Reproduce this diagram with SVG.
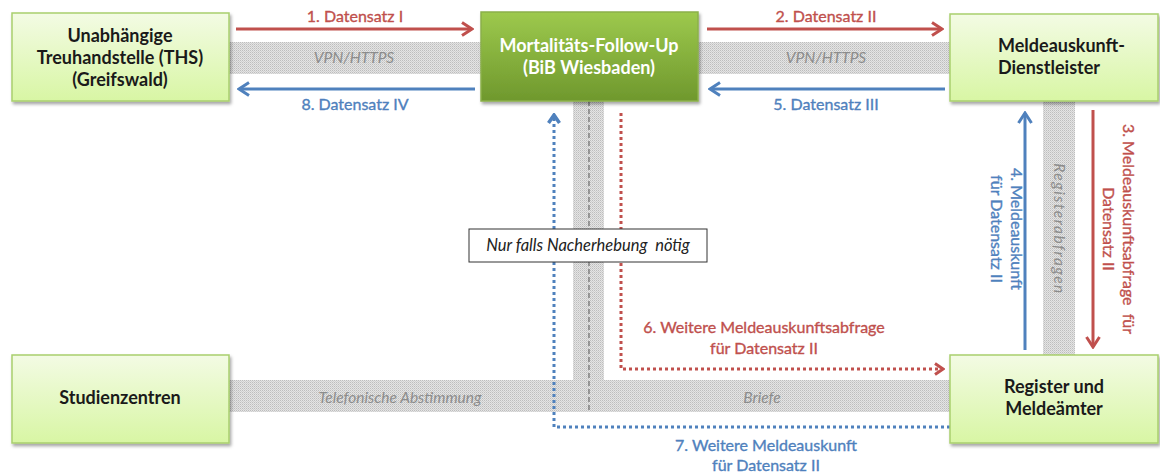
<svg xmlns="http://www.w3.org/2000/svg" width="1160" height="475" viewBox="0 0 1160 475">
<style>
.node{stroke:#a9cf6e;stroke-width:1.5;filter:url(#sh)}
.lt{fill:url(#gLight)}
.dk{fill:url(#gDark);stroke:#8bb04a}
.nt{font-family:Lato,"Liberation Sans",sans-serif;font-weight:bold;font-size:18px;fill:#1a1a1a}
.wt{fill:#ffffff}
.band{fill:url(#dots)}
.bl{font-family:Lato,"Liberation Sans",sans-serif;font-style:italic;font-size:15.5px;fill:#8c8c8c}
.red{stroke:#c0504d;fill:none}
.blue{stroke:#4f81bd;fill:none}
.rt{font-family:Lato,"Liberation Sans",sans-serif;font-size:16px;fill:#c0504d;stroke:#c0504d;stroke-width:0.35;white-space:pre}
.btx{font-family:Lato,"Liberation Sans",sans-serif;font-size:16px;fill:#4f81bd;stroke:#4f81bd;stroke-width:0.35;white-space:pre}
.solid{stroke-width:3}
.dot{stroke-width:3;stroke-dasharray:3 3}
</style>
<defs>
<linearGradient id="gLight" x1="0" y1="0" x2="0" y2="1">
<stop offset="0" stop-color="#f3fbe4"/>
<stop offset="1" stop-color="#d8f6a4"/>
</linearGradient>
<linearGradient id="gDark" x1="0" y1="0" x2="0" y2="1">
<stop offset="0" stop-color="#9dc94d"/>
<stop offset="1" stop-color="#6f982d"/>
</linearGradient>
<pattern id="dots" width="2" height="2" patternUnits="userSpaceOnUse">
<rect width="2" height="2" fill="#e4e4e4"/>
<rect width="1" height="1" fill="#bdbdbd"/>
<rect x="1" y="1" width="1" height="1" fill="#cfcfcf"/>
</pattern>
<filter id="sh" x="-10%" y="-10%" width="125%" height="130%">
<feDropShadow dx="1.5" dy="2.5" stdDeviation="1.8" flood-color="#000" flood-opacity="0.35"/>
</filter>
<marker id="aR" viewBox="0 0 14 16" refX="12" refY="8" markerWidth="14" markerHeight="16" markerUnits="userSpaceOnUse" orient="auto">
<path d="M2,1.5 L12,8 L2,14.5" fill="none" stroke="#c0504d" stroke-width="3"/>
</marker>
<marker id="aB" viewBox="0 0 14 16" refX="12" refY="8" markerWidth="14" markerHeight="16" markerUnits="userSpaceOnUse" orient="auto">
<path d="M2,1.5 L12,8 L2,14.5" fill="none" stroke="#4f81bd" stroke-width="3"/>
</marker>
<marker id="aRs" viewBox="0 0 12 14" refX="10" refY="7" markerWidth="12" markerHeight="14" markerUnits="userSpaceOnUse" orient="auto">
<path d="M2,1.5 L10,7 L2,12.5" fill="none" stroke="#c0504d" stroke-width="3"/>
</marker>
<marker id="aBs" viewBox="0 0 12 14" refX="10" refY="7" markerWidth="12" markerHeight="14" markerUnits="userSpaceOnUse" orient="auto">
<path d="M2,1.5 L10,7 L2,12.5" fill="none" stroke="#4f81bd" stroke-width="3.5"/>
</marker>
</defs>

<g id="bands">
<rect class="band" x="229" y="42" width="721" height="32"/>
<rect class="band" x="1043" y="101" width="32" height="254"/>
<rect class="band" x="573" y="101" width="31" height="311"/>
<rect class="band" x="229" y="380" width="721" height="32"/>
<line x1="589" y1="101" x2="589" y2="410" stroke="#555" stroke-width="1" stroke-dasharray="5 3"/>
<text class="bl" x="354" y="63" text-anchor="middle">VPN/HTTPS</text>
<text class="bl" x="826" y="63" text-anchor="middle">VPN/HTTPS</text>
<text class="bl" x="400" y="403" text-anchor="middle" font-size="16.5">Telefonische Abstimmung</text>
<text class="bl" x="762" y="403" text-anchor="middle" font-size="16.5">Briefe</text>
<text class="bl" transform="translate(1054,229) rotate(90)" text-anchor="middle" letter-spacing="1.5">Registerabfragen</text>
</g>

<g id="connectors">
<line class="red solid" x1="236" y1="29" x2="472" y2="29" marker-end="url(#aR)"/>
<line class="red solid" x1="707" y1="29" x2="942" y2="29" marker-end="url(#aR)"/>
<line class="blue solid" x1="475" y1="89" x2="239" y2="89" marker-end="url(#aB)"/>
<line class="blue solid" x1="945" y1="89" x2="710" y2="89" marker-end="url(#aB)"/>
<line class="blue solid" x1="1025" y1="350" x2="1025" y2="113" marker-end="url(#aB)"/>
<line class="red solid" x1="1093" y1="110" x2="1093" y2="347" marker-end="url(#aR)"/>
<path class="red dot" d="M621,113 V369 H943" marker-end="url(#aRs)"/>
<path class="blue dot" d="M950,427 H554 V115" marker-end="url(#aBs)"/>
<text class="rt" x="355" y="22" text-anchor="middle">1. Datensatz I</text>
<text class="rt" x="826" y="22" text-anchor="middle">2. Datensatz II</text>
<text class="btx" x="355" y="110" text-anchor="middle">8. Datensatz IV</text>
<text class="btx" x="826" y="110" text-anchor="middle">5. Datensatz III</text>
<text class="btx" transform="translate(1011,229) rotate(90)" text-anchor="middle">4. Meldeauskunft</text>
<text class="btx" transform="translate(991,229) rotate(90)" text-anchor="middle">für Datensatz II</text>
<text class="rt" transform="translate(1123,229) rotate(90)" text-anchor="middle">3. Meldeauskunftsabfrage  für</text>
<text class="rt" transform="translate(1103,229) rotate(90)" text-anchor="middle">Datensatz II</text>
<text class="rt" x="764" y="333" text-anchor="middle">6. Weitere Meldeauskunftsabfrage</text>
<text class="rt" x="764" y="354" text-anchor="middle">für Datensatz II</text>
<text class="btx" x="766" y="451" text-anchor="middle">7. Weitere Meldeauskunft</text>
<text class="btx" x="766" y="471" text-anchor="middle">für Datensatz II</text>
</g>

<g id="note">
<rect x="469" y="229" width="238" height="33" fill="#fff" stroke="#333" stroke-width="1"/>
<text x="588" y="251" text-anchor="middle" font-family="Lato,'Liberation Sans',sans-serif" font-style="italic" font-size="16.5" fill="#222" style="white-space:pre">Nur falls Nacherhebung  nötig</text>
</g>

<g id="ths">
<rect class="node lt" x="12" y="13" width="217" height="88"/>
<text class="nt" x="120" y="42" text-anchor="middle">Unabhängige</text>
<text class="nt" x="120" y="64" text-anchor="middle">Treuhandstelle (THS)</text>
<text class="nt" x="120" y="86" text-anchor="middle">(Greifswald)</text>
</g>

<g id="mfu">
<rect class="node dk" x="481" y="12" width="217" height="89"/>
<text class="nt wt" x="589" y="52" text-anchor="middle">Mortalitäts-Follow-Up</text>
<text class="nt wt" x="589" y="74" text-anchor="middle">(BiB Wiesbaden)</text>
</g>

<g id="mad">
<rect class="node lt" x="950" y="14" width="208" height="87"/>
<text class="nt" x="998" y="52">Meldeauskunft-</text>
<text class="nt" x="998" y="74">Dienstleister</text>
</g>

<g id="sz">
<rect class="node lt" x="12" y="355" width="217" height="88"/>
<text class="nt" x="120" y="404" text-anchor="middle">Studienzentren</text>
</g>

<g id="reg">
<rect class="node lt" x="950" y="355" width="208" height="88"/>
<text class="nt" x="1054" y="393" text-anchor="middle">Register und</text>
<text class="nt" x="1054" y="415" text-anchor="middle">Meldeämter</text>
</g>
</svg>
